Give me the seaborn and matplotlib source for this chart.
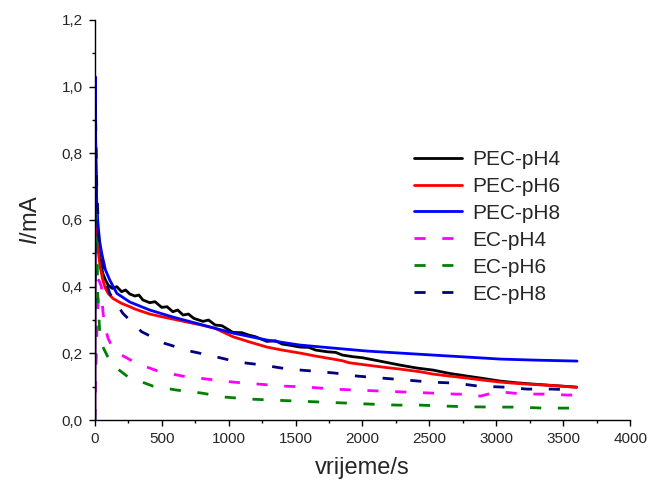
import numpy as np
import pandas as pd
import matplotlib
matplotlib.use('Agg')
from matplotlib import pyplot as plt
from matplotlib.ticker import MultipleLocator, FuncFormatter
import seaborn as sns

sns.set_style('white')
plt.rcParams['font.family'] = ['Liberation Sans', 'DejaVu Sans']
plt.rcParams['mathtext.fontset'] = 'custom'
plt.rcParams['mathtext.it'] = 'Liberation Sans:italic'
plt.rcParams['mathtext.rm'] = 'Liberation Sans'

# PEC-pH4 (crno)
t_pec4 = [0, 3, 8, 15, 25, 40, 60, 80, 100, 130, 165, 200, 230, 262, 300, 330, 360, 411, 450, 500,
          540, 583, 620, 660, 700, 740, 808, 850, 900, 950, 1032, 1100, 1150, 1200, 1286, 1350, 1400,
          1450, 1533, 1600, 1650, 1735, 1800, 1850, 1930, 2000, 2154, 2280, 2408, 2527, 2650, 2781,
          2900, 3028, 3150, 3275, 3450, 3600]
i_pec4 = [0, 0.95, 0.78, 0.62, 0.54, 0.48, 0.44, 0.42, 0.405, 0.395, 0.40, 0.385, 0.39, 0.378, 0.372,
          0.375, 0.36, 0.352, 0.355, 0.338, 0.34, 0.325, 0.33, 0.315, 0.318, 0.305, 0.296, 0.30, 0.285,
          0.283, 0.263, 0.262, 0.255, 0.25, 0.236, 0.238, 0.228, 0.225, 0.219, 0.218, 0.21, 0.205,
          0.203, 0.195, 0.19, 0.187, 0.175, 0.165, 0.156, 0.15, 0.14, 0.132, 0.125, 0.117, 0.112,
          0.108, 0.103, 0.099]

# PEC-pH6 (crveno)
t_pec6 = [0, 3, 8, 15, 25, 40, 60, 80, 100, 135, 165, 200, 262, 300, 411, 500, 583, 700, 808, 900,
          1032, 1150, 1286, 1400, 1533, 1650, 1780, 1850, 1900, 2033, 2150, 2280, 2430, 2527, 2650,
          2781, 2900, 3028, 3150, 3275, 3450, 3600]
i_pec6 = [0, 0.9, 0.72, 0.58, 0.51, 0.46, 0.42, 0.395, 0.38, 0.365, 0.358, 0.35, 0.34, 0.333, 0.318,
          0.31, 0.303, 0.293, 0.284, 0.275, 0.25, 0.235, 0.219, 0.21, 0.201, 0.192, 0.183, 0.178,
          0.172, 0.165, 0.159, 0.153, 0.145, 0.138, 0.132, 0.126, 0.12, 0.114, 0.11, 0.107, 0.103,
          0.098]

# PEC-pH8 (plavo)
t_pec8 = [0, 3, 8, 15, 22, 35, 52, 80, 112, 165, 262, 411, 583, 808, 1032, 1286, 1533, 1780, 2033,
          2280, 2527, 2781, 3028, 3275, 3603]
i_pec8 = [0, 1.03, 0.8, 0.65, 0.6, 0.54, 0.5, 0.45, 0.42, 0.38, 0.354, 0.33, 0.309, 0.285, 0.261,
          0.24, 0.225, 0.216, 0.207, 0.201, 0.195, 0.189, 0.183, 0.18, 0.177]

# EC-pH4 (magenta)
t_ec4 = [0, 15, 30, 50, 60, 75, 100, 135, 200, 314, 486, 658, 838, 1032, 1220, 1405, 1592, 1780,
         1960, 2145, 2330, 2520, 2690, 2800, 2880, 2960, 3050, 3200, 3350, 3540, 3600]
i_ec4 = [0, 0.25, 0.42, 0.40, 0.33, 0.28, 0.245, 0.215, 0.195, 0.17, 0.145, 0.132, 0.123, 0.114,
         0.108, 0.102, 0.099, 0.093, 0.09, 0.087, 0.084, 0.081, 0.078, 0.077, 0.072, 0.08, 0.084,
         0.078, 0.078, 0.075, 0.075]

# EC-pH6 (zeleno)
t_ec6 = [0, 5, 15, 22, 37, 60, 97, 150, 247, 434, 613, 800, 972, 1160, 1330, 1518, 1697, 1885, 2056,
         2258, 2430, 2617, 2790, 2976, 3160, 3350, 3600]
i_ec6 = [0, 0.65, 0.6, 0.38, 0.265, 0.22, 0.19, 0.16, 0.13, 0.102, 0.09, 0.081, 0.069, 0.063, 0.06,
         0.057, 0.054, 0.051, 0.048, 0.045, 0.045, 0.042, 0.04, 0.039, 0.039, 0.036, 0.036]

# EC-pH8 (tamnoplavo)
t_ec8 = [0, 5, 15, 30, 52, 80, 112, 210, 350, 523, 710, 883, 1070, 1256, 1443, 1630, 1795, 1960,
         2145, 2333, 2505, 2692, 2864, 3050, 3230, 3417, 3600]
i_ec8 = [0, 0.95, 0.7, 0.55, 0.48, 0.42, 0.38, 0.32, 0.265, 0.23, 0.207, 0.192, 0.174, 0.165, 0.153,
         0.147, 0.141, 0.132, 0.126, 0.12, 0.114, 0.111, 0.102, 0.099, 0.093, 0.093, 0.09]

series = [
    ('PEC-pH4', t_pec4, i_pec4, '#000000', '-'),
    ('PEC-pH6', t_pec6, i_pec6, '#FF0000', '-'),
    ('PEC-pH8', t_pec8, i_pec8, '#0000FF', '-'),
    ('EC-pH4', t_ec4, i_ec4, '#FF00FF', (0, (4, 6))),
    ('EC-pH6', t_ec6, i_ec6, '#008000', (0, (4, 6))),
    ('EC-pH8', t_ec8, i_ec8, '#000080', (0, (4, 6))),
]

fig = plt.figure(figsize=(6.49, 4.84), dpi=100)
ax = fig.add_axes([0.146, 0.132, 0.825, 0.827])

for name, t, i, c, ls in series:
    df = pd.DataFrame({'t': t, 'I': i})
    sns.lineplot(data=df, x='t', y='I', ax=ax, color=c, linestyle=ls, lw=2,
                 estimator=None, sort=False, label=name)

ax.set_xlim(0, 4000)
ax.set_ylim(0, 1.2)
ax.xaxis.set_major_locator(MultipleLocator(500))
ax.xaxis.set_minor_locator(MultipleLocator(250))
ax.yaxis.set_major_locator(MultipleLocator(0.2))
ax.yaxis.set_minor_locator(MultipleLocator(0.1))
ax.yaxis.set_major_formatter(FuncFormatter(lambda v, p: f'{v:.1f}'.replace('.', ',')))
ax.tick_params(which='major', direction='out', length=4.5, width=1, labelsize=11, color='black',
               bottom=True, left=True, pad=4)
ax.tick_params(which='minor', direction='out', length=2.5, width=1, color='black',
               bottom=True, left=True)

for s in ['top', 'right']:
    ax.spines[s].set_visible(False)
for s in ['left', 'bottom']:
    ax.spines[s].set_color('black')
    ax.spines[s].set_linewidth(1)

ax.set_xlabel('vrijeme/s', fontsize=17, labelpad=8)
ax.set_ylabel(r'$\mathit{I}$/mA', fontsize=17, labelpad=14)

ax.legend(loc='upper left', bbox_to_anchor=(0.597, 0.675), frameon=False, fontsize=15,
          handlelength=2.3, handletextpad=0.5, labelspacing=0.38, borderaxespad=0, borderpad=0)

plt.savefig('out.png', dpi=100)
